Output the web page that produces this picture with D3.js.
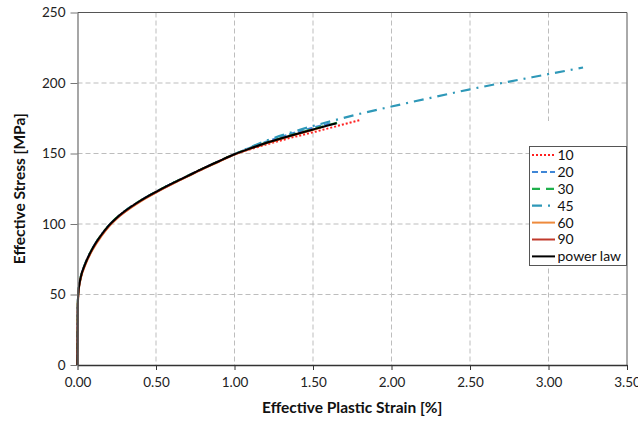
<!DOCTYPE html>
<html>
<head>
<meta charset="utf-8">
<script src="https://cdn.jsdelivr.net/npm/d3@7"></script>
<style>
body { margin: 0; background: #fff; }
svg { font-family: Lato, "Open Sans", sans-serif; }
.tick text { font-size: 13.5px; fill: #222; }
.axis-title { font-size: 15.5px; font-weight: bold; fill: #111; }
.legend-text { font-size: 14px; fill: #111; }
</style>
</head>
<body>
<svg id="chart" width="638" height="421"></svg>
<script>
// strain [%] -> effective stress [MPa]
var strainLow = [0, 0.002, 0.005, 0.01, 0.02, 0.05, 0.1, 0.15, 0.2, 0.25, 0.3, 0.4, 0.5, 0.6, 0.7, 0.8, 0.9, 1.0];
var stressLow = [0, 43, 51, 56, 62, 72, 83.5, 92, 99, 104.5, 109, 116.5, 122.8, 128.6, 134, 139.4, 144.5, 149.5];

var strainPL = strainLow.concat([1.1, 1.2, 1.3, 1.4, 1.5, 1.6, 1.65]);
var stressPL = stressLow.concat([153.6, 157.4, 160.8, 164.0, 167.0, 170.0, 171.4]);

var strain10 = strainLow.concat([1.1, 1.2, 1.3, 1.4, 1.5, 1.6, 1.7, 1.8]);
var stress10 = stressLow.concat([153.0, 156.3, 159.4, 162.3, 165.0, 167.9, 170.8, 173.7]);

var strain20 = strainLow.concat([1.1, 1.2, 1.3, 1.4, 1.5, 1.6, 1.62]);
var stress20 = stressLow.concat([154.2, 158.3, 162.0, 165.3, 168.3, 171.2, 171.8]);

var strain30 = strainLow.concat([1.1, 1.2, 1.3, 1.4, 1.5, 1.6, 1.66]);
var stress30 = stressLow.concat([153.7, 157.6, 161.0, 164.3, 167.3, 170.3, 171.9]);

var strain45 = strainLow.concat([1.2, 1.4, 1.6, 1.8, 2.0, 2.25, 2.5, 2.75, 3.0, 3.22]);
var stress45 = stressLow.concat([159.0, 166.3, 172.5, 178.2, 183.3, 189.5, 195.5, 201.0, 206.3, 211.0]);

var strain60 = strainLow.concat([1.1, 1.2, 1.3, 1.4, 1.5, 1.55]);
var stress60 = [0, 41, 49.5, 55, 61, 71, 82.5, 91, 98.2, 103.8, 108.3, 115.9, 122.3, 128.1, 133.6, 139.1, 144.1, 149.2, 153.3, 157.1, 160.5, 163.7, 166.7, 168.2];

var strain90 = strainLow.concat([1.1, 1.2, 1.3, 1.4, 1.5]);
var stress90 = [0, 42, 50, 55.5, 61.5, 71.5, 83, 91.5, 98.6, 104.1, 108.6, 116.2, 122.5, 128.3, 133.8, 139.2, 144.3, 149.3, 153.4, 157.2, 160.6, 163.8, 166.8];

var seriesNames = ["10", "20", "30", "45", "60", "90", "power law"];
var seriesStrain = [strain10, strain20, strain30, strain45, strain60, strain90, strainPL];
var seriesStress = [stress10, stress20, stress30, stress45, stress60, stress90, stressPL];
var seriesColor = ["#ff2020", "#3f86d6", "#1fb04c", "#2e98b8", "#ee8a3c", "#c0392b", "#000000"];
var seriesDash = ["2,2", "6,3", "8,6", "10,6,2,6", null, null, null];
var seriesWidth = [2, 2, 2.2, 2.2, 2, 2, 2];

var xTicks = [0, 0.5, 1, 1.5, 2, 2.5, 3, 3.5];
var yTicks = [0, 50, 100, 150, 200, 250];

var svg = d3.select("#chart");
var plotLeft = 77.5, plotRight = 627, plotTop = 12.5, plotBottom = 365;

var x = d3.scaleLinear().domain([0, 3.5]).range([plotLeft, plotRight]);
var y = d3.scaleLinear().domain([0, 250]).range([plotBottom, plotTop]);

// grid
svg.append("g").selectAll("line").data(yTicks.slice(1, -1)).enter().append("line")
	.attr("x1", plotLeft).attr("x2", plotRight)
	.attr("y1", function(d) { return y(d); }).attr("y2", function(d) { return y(d); })
	.style("stroke", "#bdbdbd").style("stroke-width", 1).style("stroke-dasharray", "5,3");
svg.append("g").selectAll("line").data(xTicks.slice(1, -1)).enter().append("line")
	.attr("y1", plotTop).attr("y2", plotBottom)
	.attr("x1", function(d) { return x(d); }).attr("x2", function(d) { return x(d); })
	.style("stroke", "#bdbdbd").style("stroke-width", 1).style("stroke-dasharray", "5,3");

// top / right frame
svg.append("line").attr("x1", plotLeft).attr("x2", plotRight).attr("y1", plotTop).attr("y2", plotTop)
	.style("stroke", "#555").style("stroke-width", 1);
svg.append("line").attr("x1", plotRight).attr("x2", plotRight).attr("y1", plotTop).attr("y2", plotBottom)
	.style("stroke", "#555").style("stroke-width", 1);

// white patch above the legend
svg.append("rect").attr("x", 529).attr("y", 121).attr("width", 97).attr("height", 25).style("fill", "#fff");

// curves
var line = d3.line()
	.x(function(d) { return x(d[0]); })
	.y(function(d) { return y(d[1]); })
	.curve(d3.curveMonotoneX);

for (var i = 0; i < seriesNames.length; i++) {
	var pts = d3.zip(seriesStrain[i], seriesStress[i]);
	svg.append("path")
		.datum(pts)
		.attr("d", line)
		.style("fill", "none")
		.style("stroke", seriesColor[i])
		.style("stroke-width", seriesWidth[i])
		.style("stroke-dasharray", seriesDash[i]);
}

// axes
var xAxis = svg.append("g").attr("transform", "translate(0," + plotBottom + ")")
	.call(d3.axisBottom(x).tickValues(xTicks).tickFormat(d3.format(".2f")).tickSize(5).tickSizeOuter(0).tickPadding(5));
xAxis.select(".domain").style("stroke", "#333").style("stroke-width", 1.3);
xAxis.selectAll(".tick line").style("stroke", "#333");
xAxis.selectAll(".tick text").attr("dy", "0.9em");

var yAxis = svg.append("g").attr("transform", "translate(" + plotLeft + ",0)")
	.call(d3.axisLeft(y).tickValues(yTicks).tickSize(7).tickSizeOuter(0).tickPadding(5));
yAxis.select(".domain").style("stroke", "#777").style("stroke-width", 1.3);
yAxis.selectAll(".tick line").style("stroke", "#777");

svg.selectAll(".tick text").style("font-family", "Lato, 'Open Sans', sans-serif");

// axis titles
svg.append("text").attr("class", "axis-title")
	.attr("x", (plotLeft + plotRight) / 2).attr("y", 413)
	.attr("text-anchor", "middle")
	.text("Effective Plastic Strain [%]");
svg.append("text").attr("class", "axis-title")
	.attr("transform", "translate(25," + ((plotTop + plotBottom) / 2) + ") rotate(-90)")
	.attr("text-anchor", "middle")
	.text("Effective Stress [MPa]");

// legend
var lg = svg.append("g");
lg.append("rect").attr("x", 529.5).attr("y", 146.5).attr("width", 97).attr("height", 119)
	.style("fill", "#fff").style("stroke", "#555").style("stroke-width", 1);
for (var j = 0; j < seriesNames.length; j++) {
	var ly = 155 + j * 16.9;
	lg.append("line").attr("x1", 532).attr("x2", 555).attr("y1", ly).attr("y2", ly)
		.style("stroke", seriesColor[j])
		.style("stroke-width", seriesWidth[j])
		.style("stroke-dasharray", seriesDash[j]);
	lg.append("text").attr("class", "legend-text")
		.attr("x", 557.5).attr("y", ly).attr("dy", "0.35em")
		.text(seriesNames[j]);
}
</script>
</body>
</html>
